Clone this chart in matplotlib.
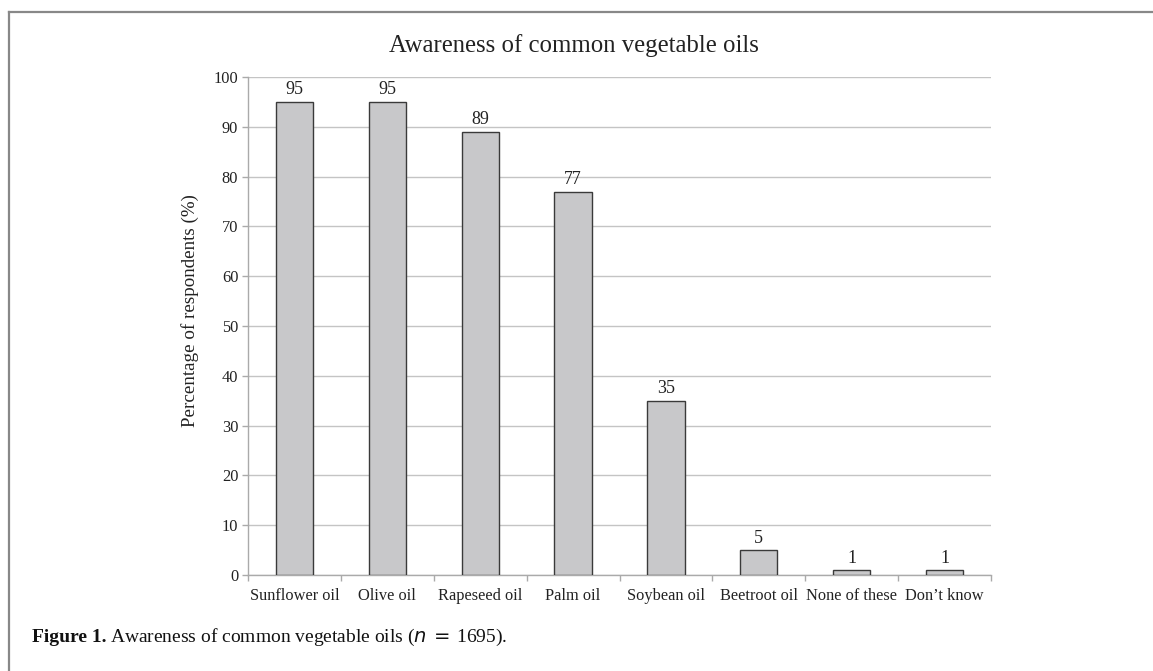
import matplotlib
matplotlib.use("Agg")
import matplotlib.pyplot as plt
from matplotlib.lines import Line2D
from matplotlib.ticker import MultipleLocator, FixedLocator

categories = ["Sunflower oil", "Olive oil", "Rapeseed oil", "Palm oil",
              "Soybean oil", "Beetroot oil", "None of these", "Don\u2019t know"]
values = [95, 95, 89, 77, 35, 5, 1, 1]

W, H = 1153, 671
fig = plt.figure(figsize=(W / 100, H / 100), dpi=100)
plt.rcParams['font.family'] = ['Liberation Serif', 'DejaVu Serif']

left, right, bottom, top = 248, 991, 575, 77
ax = fig.add_axes([left / W, 1 - bottom / H, (right - left) / W, (bottom - top) / H])

x = list(range(len(categories)))
ax.bar(x, values, width=0.4, color="#c8c8ca", edgecolor="#3a3a3a", linewidth=1.0, zorder=3)
for xi, v in zip(x, values):
    ax.annotate(str(v), (xi, v), xytext=(0, 2.5), textcoords="offset points",
                ha="center", va="bottom", fontsize=13, color="#222222")

ax.set_xlim(-0.5, len(categories) - 0.5)
ax.set_ylim(0, 100)
ax.yaxis.set_major_locator(MultipleLocator(10))
ax.grid(axis="y", color="#c4c4c4", linewidth=1.0, zorder=0)
ax.set_axisbelow(True)

ax.set_xticks(x)
ax.set_xticklabels(categories, fontsize=11.8, color="#222222")
ax.xaxis.set_minor_locator(FixedLocator([i - 0.5 for i in range(len(categories) + 1)]))
ax.tick_params(axis="x", which="major", length=0, pad=9)
ax.tick_params(axis="x", which="minor", length=4, color="#aaaaaa", width=1.0, direction="out")
ax.tick_params(axis="y", length=4, color="#aaaaaa", width=1.0, pad=3, labelsize=11.8, labelcolor="#222222")

for s in ["top", "right"]:
    ax.spines[s].set_visible(False)
for s in ["left", "bottom"]:
    ax.spines[s].set_color("#aaaaaa")
    ax.spines[s].set_linewidth(1.0)

fig.text(190 / W, 1 - 311 / H, "Percentage of respondents (%)", rotation=90,
         ha="center", va="center", fontsize=13.7, color="#222222")

fig.text(574 / W, 1 - 46 / H, "Awareness of common vegetable oils",
         ha="center", va="center", fontsize=17.8, color="#222222")

# caption
t1 = fig.text(32 / W, 1 - 637 / H, "Figure 1.", ha="left", va="center",
              fontsize=14, fontweight="bold", color="#111111")
fig.canvas.draw()
bb = t1.get_window_extent()
fig.text((bb.x1 + 4) / W, 1 - 637 / H,
         "Awareness of common vegetable oils ($n\\,=\\,$1695).",
         ha="left", va="center", fontsize=14, color="#111111")

# frame lines
fig.add_artist(Line2D([8.5 / W, 8.5 / W], [0, 1 - 12 / H], transform=fig.transFigure,
                      color="#888888", linewidth=1.6))
fig.add_artist(Line2D([8.5 / W, 1], [1 - 12 / H, 1 - 12 / H], transform=fig.transFigure,
                      color="#888888", linewidth=1.6))

fig.savefig("out.png", dpi=100)
